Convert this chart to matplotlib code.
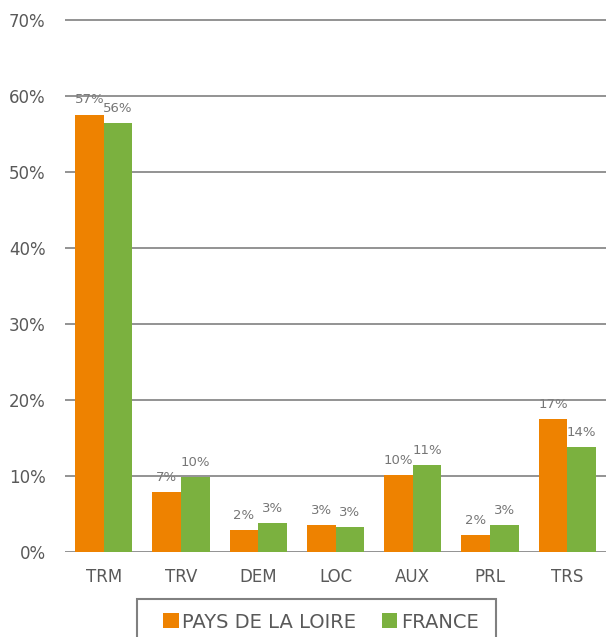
import numpy as np
import matplotlib.pyplot as plt
from matplotlib.patches import Patch, Rectangle

###############################################################################
# Data
categories = ['TRM', 'TRV', 'DEM', 'LOC', 'AUX', 'PRL', 'TRS']
pays_loire = [57.5, 7.8, 2.8, 3.5, 10.1, 2.2, 17.4]
france = [56.4, 9.8, 3.8, 3.25, 11.4, 3.5, 13.8]
pays_loire_labels = ['57%', '7%', '2%', '3%', '10%', '2%', '17%']
france_labels = ['56%', '10%', '3%', '3%', '11%', '3%', '14%']
series_names = ['PAYS DE LA LOIRE', 'FRANCE']

###############################################################################
# Style
orange = '#EE8200'
green = '#7BB13F'
text_gray = '#595959'
label_gray = '#767676'
grid_gray = '#808080'

fig = plt.figure(figsize=(6.06, 6.37), dpi=100)
ax = fig.add_axes([65 / 606, (637 - 551.7) / 637, 541 / 606, 536 / 637])

x = np.arange(len(categories))
w = 0.37
b1 = ax.bar(x - w / 2, pays_loire, w, color=orange, zorder=3)
b2 = ax.bar(x + w / 2, france, w, color=green, zorder=3)

# Data labels (drawn under the gridlines, like the original)
for bars, labels in ((b1, pays_loire_labels), (b2, france_labels)):
    for rect, lab in zip(bars, labels):
        ax.annotate(lab, (rect.get_x() + rect.get_width() / 2, rect.get_height()),
                    xytext=(0, 8), textcoords='offset points', ha='center',
                    va='baseline', fontsize=9.5, color=label_gray, zorder=1)

ax.set_xlim(-0.5, len(categories) - 0.5)
ax.set_ylim(0, 70.5)
ax.set_yticks(np.arange(0, 71, 10))
ax.set_yticklabels([f'{v}%' for v in range(0, 71, 10)])
ax.set_xticks(x)
ax.set_xticklabels(categories)

ax.set_axisbelow(False)
ax.yaxis.grid(True, color=grid_gray, linewidth=1.2)
for gl in ax.get_ygridlines():
    gl.set_zorder(2)
for s in ax.spines.values():
    s.set_visible(False)
ax.tick_params(axis='both', length=0, labelsize=12, colors=text_gray)
ax.tick_params(axis='y', pad=14)
ax.tick_params(axis='x', pad=12)

# Legend; its frame runs off the bottom edge, as in the original
handles = [Patch(facecolor=orange, edgecolor='none'), Patch(facecolor=green, edgecolor='none')]
leg = fig.legend(handles, series_names, loc='center', ncol=2,
                 bbox_to_anchor=(321 / 606, 1 - 622 / 637),
                 fontsize=14, frameon=False, borderpad=0,
                 handlelength=0.8, handleheight=0.8, handletextpad=0.2,
                 columnspacing=1.3, borderaxespad=0)
for t in leg.get_texts():
    t.set_color(text_gray)
fig.patches.append(Rectangle((137 / 606, -0.05), (496 - 137) / 606, 0.05 + 1 - 599 / 637,
                             transform=fig.transFigure, fill=False,
                             edgecolor=grid_gray, linewidth=1.5))

fig.savefig('out.png', dpi=100)
